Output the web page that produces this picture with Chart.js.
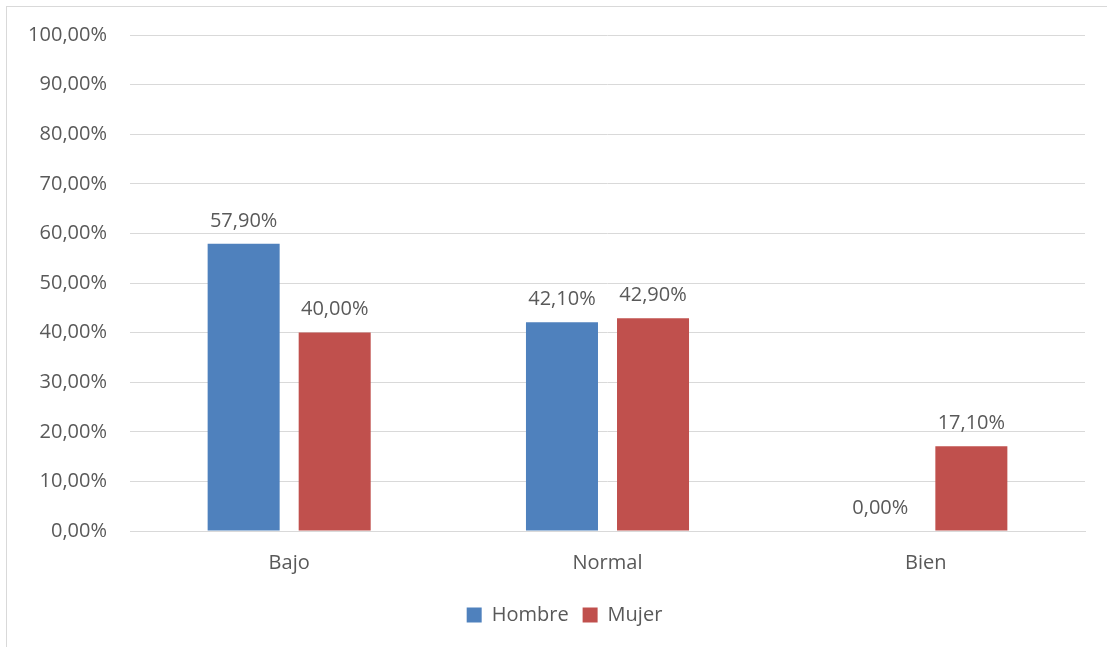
<!DOCTYPE html>
<html>
<head>
<meta charset="utf-8">
<script src="https://cdn.jsdelivr.net/npm/chart.js@4"></script>
<style>
  html, body { margin: 0; padding: 0; background: #fff; }
  #wrap { position: relative; width: 1107px; height: 647px; }
  #frame { position: absolute; left: 6px; top: 6px; width: 1110px; height: 660px; border: 1px solid #d9d9d9; box-sizing: border-box; }
  #main-chart { position: absolute; left: 0; top: 0; }
</style>
</head>
<body>
<div id="wrap">
  <div id="frame"></div>
  <canvas id="main-chart" width="1107" height="647"></canvas>
</div>
<script>
const categories = ['Bajo', 'Normal', 'Bien'];
const hombre = [57.9, 42.1, 0.0];
const mujer = [40.0, 42.9, 17.1];
const yTicks = [0, 10, 20, 30, 40, 50, 60, 70, 80, 90, 100];

const FONT = "'Open Sans', sans-serif";
const SIZE = 20;
const TEXT = '#595959';

function pct(v) {
  return v.toFixed(2).replace('.', ',') + '%';
}

// writes each bar's value just above it
const valueLabels = {
  id: 'valueLabels',
  afterDatasetsDraw(chart) {
    const ctx = chart.ctx;
    ctx.save();
    ctx.font = SIZE + 'px ' + FONT;
    ctx.fillStyle = TEXT;
    ctx.textAlign = 'center';
    ctx.textBaseline = 'middle';
    chart.data.datasets.forEach((ds, i) => {
      chart.getDatasetMeta(i).data.forEach((bar, j) => {
        ctx.fillText(pct(ds.data[j]), bar.x, bar.y - 23);
      });
    });
    ctx.restore();
  }
};

// nudge the legend a bit to the right of the canvas centre
const legendShift = {
  id: 'legendShift',
  afterLayout(chart) {
    if (chart.legend) {
      chart.legend.left += 22;
      chart.legend.right += 22;
    }
  }
};

const ctx = document.getElementById('main-chart').getContext('2d');
new Chart(ctx, {
  type: 'bar',
  data: {
    labels: categories,
    datasets: [
      { label: 'Hombre', data: hombre, backgroundColor: '#4F81BD' },
      { label: 'Mujer', data: mujer, backgroundColor: '#C0504D' }
    ]
  },
  options: {
    responsive: false,
    animation: false,
    layout: { padding: { top: 32, right: 22, bottom: 12, left: 0 } },
    categoryPercentage: 0.572,
    barPercentage: 0.791,
    scales: {
      x: {
        grid: { display: false },
        border: { color: '#d9d9d9' },
        ticks: { color: TEXT, font: { family: FONT, size: SIZE }, padding: 12 },
        afterFit(scale) { scale.height = 60; }
      },
      y: {
        min: 0,
        max: 100,
        afterBuildTicks(scale) { scale.ticks = yTicks.map(v => ({ value: v })); },
        grid: { color: '#d9d9d9', drawTicks: false },
        border: { display: false },
        ticks: {
          color: TEXT,
          font: { family: FONT, size: SIZE },
          padding: 23,
          callback: v => pct(v)
        },
        afterFit(scale) { scale.width = 130; }
      }
    },
    plugins: {
      legend: {
        position: 'bottom',
        labels: {
          color: TEXT,
          font: { family: FONT, size: SIZE },
          boxWidth: 15,
          boxHeight: 15,
          padding: 14
        }
      },
      tooltip: { enabled: false }
    }
  },
  plugins: [valueLabels, legendShift]
});
</script>
</body>
</html>
